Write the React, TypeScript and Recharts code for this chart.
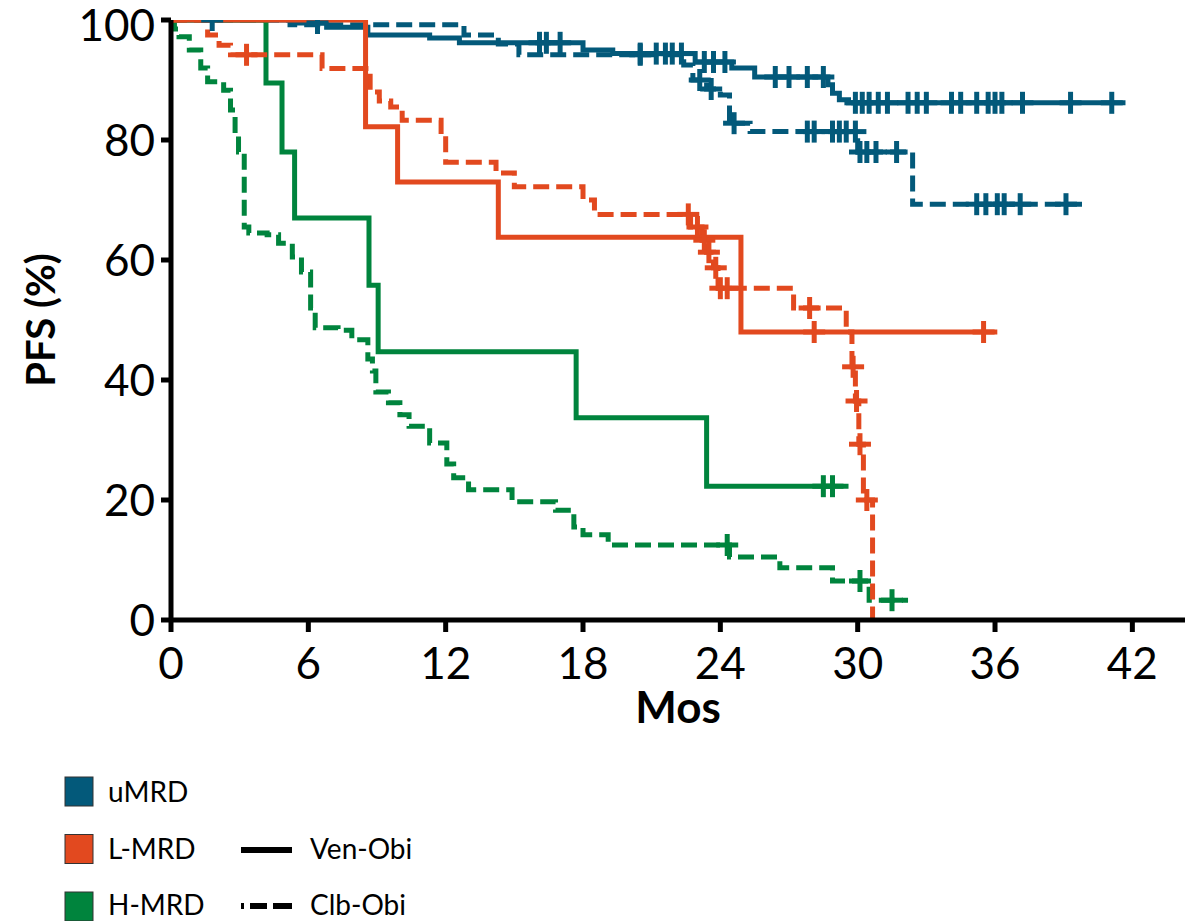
import React from 'react';
import { ComposedChart, Line, Scatter, XAxis, YAxis } from 'recharts';

const TEAL = '#03597a';
const ORANGE = '#e2491f';
const GREEN = '#00843d';

const xTicks = [0, 6, 12, 18, 24, 30, 36, 42];
const yTicks = [0, 20, 40, 60, 80, 100];

// uMRD, Ven-Obi (solid)
const umrdVen = [
  { t: 0, s: 100 }, { t: 5.3, s: 99.5 }, { t: 6.8, s: 98.8 }, { t: 8.6, s: 97.5 },
  { t: 11.3, s: 97 }, { t: 12.6, s: 96.2 }, { t: 18, s: 95 }, { t: 19.3, s: 94.4 },
  { t: 22.9, s: 93 }, { t: 24.5, s: 92 }, { t: 25.5, s: 90.5 }, { t: 28.7, s: 89.2 },
  { t: 28.9, s: 87.8 }, { t: 29.2, s: 86.7 }, { t: 29.6, s: 86.2 }, { t: 41.7, s: 86.2 },
];
const umrdVenCens = [
  { t: 1.8, s: 100 }, { t: 6.4, s: 99.5 }, { t: 16.1, s: 96.2 }, { t: 16.4, s: 96.2 },
  { t: 17, s: 96.2 }, { t: 20.5, s: 94.4 }, { t: 21.2, s: 94.4 }, { t: 21.6, s: 94.4 },
  { t: 21.9, s: 94.4 }, { t: 22.3, s: 94.4 }, { t: 23.3, s: 93 }, { t: 23.7, s: 93 },
  { t: 24.2, s: 93 }, { t: 26.4, s: 90.5 }, { t: 27, s: 90.5 }, { t: 27.8, s: 90.5 },
  { t: 28.5, s: 90.5 }, { t: 29.9, s: 86.2 }, { t: 30.2, s: 86.2 }, { t: 30.5, s: 86.2 },
  { t: 30.9, s: 86.2 }, { t: 31.3, s: 86.2 }, { t: 32.2, s: 86.2 }, { t: 32.6, s: 86.2 },
  { t: 33.0, s: 86.2 }, { t: 34.1, s: 86.2 }, { t: 34.5, s: 86.2 }, { t: 35.2, s: 86.2 },
  { t: 35.7, s: 86.2 }, { t: 36.0, s: 86.2 }, { t: 36.3, s: 86.2 }, { t: 37.2, s: 86.2 },
  { t: 39.3, s: 86.2 }, { t: 41.1, s: 86.2 },
];

// uMRD, Clb-Obi (dashed)
const umrdClb = [
  { t: 0, s: 100 }, { t: 5.2, s: 99.2 }, { t: 12.8, s: 97.5 }, { t: 14.3, s: 96 },
  { t: 15.2, s: 94.2 }, { t: 22.4, s: 92.5 }, { t: 22.8, s: 90 }, { t: 23.4, s: 88.5 },
  { t: 24.0, s: 87.5 }, { t: 24.4, s: 82.8 }, { t: 25.3, s: 81.4 }, { t: 30.0, s: 78 },
  { t: 32.4, s: 69.3 }, { t: 39.8, s: 69.3 },
];
const umrdClbCens = [
  { t: 20.5, s: 94.2 }, { t: 23.1, s: 90 }, { t: 23.6, s: 88.5 }, { t: 24.6, s: 82.8 },
  { t: 27.8, s: 81.4 }, { t: 28.1, s: 81.4 }, { t: 28.9, s: 81.4 }, { t: 29.2, s: 81.4 },
  { t: 29.5, s: 81.4 }, { t: 29.9, s: 81.4 }, { t: 30.1, s: 78 }, { t: 30.4, s: 78 },
  { t: 30.8, s: 78 }, { t: 31.7, s: 78 }, { t: 35.2, s: 69.3 }, { t: 35.6, s: 69.3 },
  { t: 36.1, s: 69.3 }, { t: 36.4, s: 69.3 }, { t: 37.1, s: 69.3 }, { t: 39.1, s: 69.3 },
];

// L-MRD, Ven-Obi (solid)
const lmrdVen = [
  { t: 0, s: 100 }, { t: 8.5, s: 82.2 }, { t: 9.9, s: 73 }, { t: 14.3, s: 63.8 },
  { t: 24.9, s: 48 }, { t: 36.1, s: 48 },
];
const lmrdVenCens = [{ t: 28.1, s: 48 }, { t: 35.5, s: 48 }];

// L-MRD, Clb-Obi (dashed)
const lmrdClb = [
  { t: 0, s: 100 }, { t: 1.6, s: 97.5 }, { t: 2.1, s: 95.8 }, { t: 2.6, s: 94.2 },
  { t: 6.6, s: 91.9 }, { t: 8.7, s: 88 }, { t: 9.1, s: 86.5 }, { t: 9.6, s: 85.5 },
  { t: 10.1, s: 83.3 }, { t: 11.8, s: 81 }, { t: 12.0, s: 76.3 }, { t: 14.2, s: 74.5 },
  { t: 15.0, s: 72.2 }, { t: 18.0, s: 70 }, { t: 18.5, s: 67.6 }, { t: 22.7, s: 65.5 },
  { t: 23.2, s: 63.3 }, { t: 23.4, s: 61.3 }, { t: 23.7, s: 58.7 }, { t: 23.9, s: 55.3 },
  { t: 27.2, s: 52 }, { t: 29.5, s: 48 }, { t: 29.75, s: 42.2 }, { t: 29.9, s: 36.5 },
  { t: 30.05, s: 29.3 }, { t: 30.25, s: 20 }, { t: 30.65, s: 0 },
];
const lmrdClbCens = [
  { t: 3.3, s: 94.2 }, { t: 22.6, s: 67.6 }, { t: 23.0, s: 65.5 }, { t: 23.3, s: 63.3 },
  { t: 23.5, s: 61.3 }, { t: 23.8, s: 58.7 }, { t: 24.0, s: 55.3 }, { t: 24.3, s: 55.3 },
  { t: 27.9, s: 52 }, { t: 29.8, s: 42.2 }, { t: 29.95, s: 36.5 }, { t: 30.1, s: 29.3 },
  { t: 30.4, s: 20 },
];

// H-MRD, Ven-Obi (solid)
const hmrdVen = [
  { t: 0, s: 100 }, { t: 4.15, s: 89.5 }, { t: 4.85, s: 78 }, { t: 5.4, s: 67 },
  { t: 8.65, s: 55.8 }, { t: 9.05, s: 44.7 }, { t: 17.7, s: 33.7 }, { t: 23.4, s: 22.3 },
  { t: 29.6, s: 22.3 },
];
const hmrdVenCens = [{ t: 28.5, s: 22.3 }, { t: 28.9, s: 22.3 }];

// H-MRD, Clb-Obi (dashed)
const hmrdClb = [
  { t: 0, s: 100 }, { t: 0.15, s: 98.5 }, { t: 0.35, s: 97.2 }, { t: 0.8, s: 95 },
  { t: 1.3, s: 92 }, { t: 1.6, s: 89.7 }, { t: 2.3, s: 88.3 }, { t: 2.6, s: 85 },
  { t: 2.8, s: 81 }, { t: 2.95, s: 78 }, { t: 3.2, s: 65.5 }, { t: 3.4, s: 64.5 },
  { t: 4.2, s: 64.2 }, { t: 4.7, s: 62.8 }, { t: 5.3, s: 60.5 }, { t: 5.7, s: 58 },
  { t: 6.1, s: 52 }, { t: 6.3, s: 48.7 }, { t: 7.3, s: 48.3 }, { t: 7.9, s: 46.7 },
  { t: 8.6, s: 43.5 }, { t: 8.8, s: 41.5 }, { t: 8.95, s: 38 }, { t: 9.5, s: 36.2 },
  { t: 10.0, s: 34.2 }, { t: 10.4, s: 32.3 }, { t: 11.3, s: 29.5 }, { t: 12.05, s: 26 },
  { t: 12.35, s: 23.7 }, { t: 13.0, s: 21.7 }, { t: 14.9, s: 19.7 }, { t: 16.8, s: 18.3 },
  { t: 17.6, s: 15.5 }, { t: 18.0, s: 14.2 }, { t: 19.1, s: 12.5 }, { t: 24.4, s: 10.5 },
  { t: 26.6, s: 8.7 }, { t: 28.9, s: 6.5 }, { t: 30.5, s: 3.3 }, { t: 32.2, s: 3.3 },
];
const hmrdClbCens = [{ t: 24.3, s: 12.5 }, { t: 30.1, s: 6.5 }, { t: 31.5, s: 3.3 }];

const FONT = 'Lato, "Open Sans", sans-serif';
const DASH = '16 7';

const makeCross = (color: string) => (props: any) => {
  const { cx, cy } = props;
  if (cx == null || cy == null) return <g />;
  return (
    <g>
      <line x1={cx - 11} x2={cx + 11} y1={cy} y2={cy} stroke={color} strokeWidth={5} />
      <line x1={cx} x2={cx} y1={cy - 11} y2={cy + 11} stroke={color} strokeWidth={5} />
    </g>
  );
};

const XLabel = (props: any) => {
  const vb = props.viewBox || {};
  return (
    <text x={vb.x + vb.width / 2} y={vb.y + 103} textAnchor="middle" fontFamily={FONT}
      fontWeight="bold" fontSize={44} fill="#000">Mos</text>
  );
};

const YLabel = (props: any) => {
  const vb = props.viewBox || {};
  const cy = vb.y + vb.height / 2;
  const x = 55;
  return (
    <text x={x} y={cy} textAnchor="middle" fontFamily={FONT} fontWeight="bold" fontSize={40}
      fill="#000" transform={`rotate(-90, ${x}, ${cy})`}>PFS (%)</text>
  );
};

const series = [
  { data: umrdClb, cens: umrdClbCens, color: TEAL, dashed: true, key: 'uc' },
  { data: umrdVen, cens: umrdVenCens, color: TEAL, dashed: false, key: 'uv' },
  { data: hmrdClb, cens: hmrdClbCens, color: GREEN, dashed: true, key: 'hc' },
  { data: hmrdVen, cens: hmrdVenCens, color: GREEN, dashed: false, key: 'hv' },
  { data: lmrdClb, cens: lmrdClbCens, color: ORANGE, dashed: true, key: 'lc' },
  { data: lmrdVen, cens: lmrdVenCens, color: ORANGE, dashed: false, key: 'lv' },
];

const legendGroups = [
  { name: 'uMRD', color: TEAL },
  { name: 'L-MRD', color: ORANGE },
  { name: 'H-MRD', color: GREEN },
];

export default function App() {
  return (
    <div style={{ position: 'absolute', left: 0, top: 0, width: 1191, height: 921, background: '#fff', overflow: 'hidden' }}>
      <ComposedChart width={1191} height={740} margin={{ top: 20, right: 6, bottom: 0, left: 0 }}
        style={{ overflow: 'visible' }}>
        <XAxis type="number" dataKey="t" domain={[0, 44.3]} ticks={xTicks} allowDataOverflow
          height={120} tickSize={12} tickMargin={16}
          axisLine={{ stroke: '#000', strokeWidth: 5 }} tickLine={{ stroke: '#000', strokeWidth: 5 }}
          tick={{ fill: '#000', fontSize: 44, fontFamily: FONT }} label={<XLabel />} />
        <YAxis type="number" dataKey="s" domain={[0, 100]} ticks={yTicks} allowDataOverflow
          width={171} tickSize={10} tickMargin={6}
          axisLine={{ stroke: '#000', strokeWidth: 5 }} tickLine={{ stroke: '#000', strokeWidth: 5 }}
          tick={{ fill: '#000', fontSize: 44, fontFamily: FONT }} label={<YLabel />} />
        {series.map((sr) => (
          <Line key={sr.key + 'l'} data={sr.data} dataKey="s" type="stepAfter" stroke={sr.color}
            strokeWidth={5} strokeDasharray={sr.dashed ? DASH : undefined} dot={false}
            activeDot={false} isAnimationActive={false} />
        ))}
        {series.map((sr) => (
          <Scatter key={sr.key + 's'} data={sr.cens} dataKey="s" fill={sr.color}
            shape={makeCross(sr.color)} isAnimationActive={false} />
        ))}
      </ComposedChart>
      <svg width={1191} height={921} style={{ position: 'absolute', left: 0, top: 0, pointerEvents: 'none' }}>
        {legendGroups.map((g, i) => (
          <g key={g.name}>
            <rect x={65} y={777 + i * 57.5} width={28} height={29} fill={g.color} stroke="#333" strokeWidth={1} />
            <text x={108} y={802 + i * 56.5} fontFamily={FONT} fontSize={28} fill="#000">{g.name}</text>
          </g>
        ))}
        <line x1={241} x2={292} y1={850} y2={850} stroke="#000" strokeWidth={6} />
        <text x={310} y={859} fontFamily={FONT} fontSize={28} fill="#000">Ven-Obi</text>
        <line x1={241} x2={292} y1={906} y2={906} stroke="#000" strokeWidth={6} strokeDasharray="3 6 17 6 19" />
        <text x={310} y={915} fontFamily={FONT} fontSize={28} fill="#000">Clb-Obi</text>
      </svg>
    </div>
  );
}
